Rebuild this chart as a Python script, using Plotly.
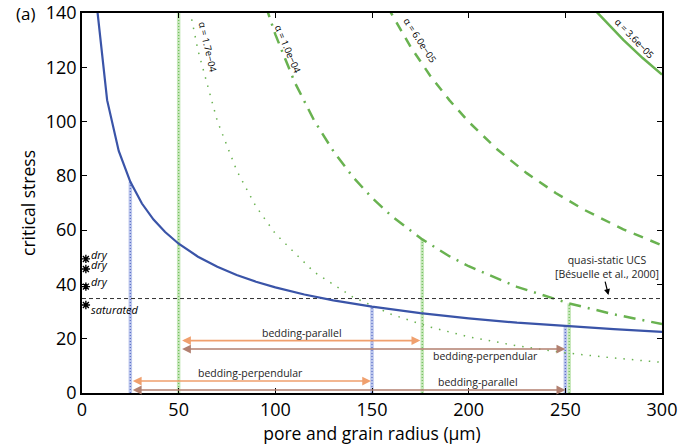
import plotly.graph_objects as go

# ---------------- data ----------------
# blue critical-stress curve
r_blue = [7, 13, 19, 25, 31, 37, 43, 50, 60, 70, 80, 90, 100, 115, 130, 150, 175, 200, 225, 250, 275, 300]
s_blue = [147.0, 107.9, 89.2, 77.8, 69.8, 63.9, 59.3, 55.0, 50.2, 46.5, 43.5, 41.0, 38.9, 36.3, 34.1,
          31.8, 29.4, 27.5, 25.9, 24.6, 23.5, 22.5]

# green alpha curves
r_a1 = [55, 60, 70, 80, 90, 100, 120, 140, 160, 180, 200, 225, 250, 275, 300]
s_a1 = [143.8, 126.2, 100.2, 82.0, 68.7, 58.7, 44.6, 35.4, 29.0, 24.3, 20.7, 17.4, 14.8, 12.9, 11.3]
r_a2 = [95, 100, 110, 120, 130, 140, 150, 160, 176, 190, 200, 225, 252, 275, 300]
s_a2 = [142.7, 132.1, 114.5, 100.5, 89.1, 79.7, 71.9, 65.3, 56.6, 50.4, 46.7, 39.1, 33.0, 29.0, 25.4]
r_a3 = [158, 170, 180, 190, 200, 215, 230, 245, 260, 280, 300]
s_a3 = [142.3, 127.5, 117.0, 107.9, 99.9, 89.6, 81.0, 73.7, 67.4, 60.3, 54.4]
r_a4 = [265, 280, 290, 300]
s_a4 = [141.3, 130.1, 123.4, 117.3]

alpha_labels = ["α = 1.7e−04", "α = 1.0e−04", "α = 6.0e−05", "α = 3.6e−05"]
alpha_label_x = [65.2, 106.6, 174.8, 285.8]
alpha_label_y = [127.4, 126.6, 129.8, 130.7]
alpha_label_angle = [77, 67, 57, 46]

# vertical markers
vblue_x = [25, 150, 250]
vblue_top = [77.8, 31.8, 24.6]
vgreen_x = [50, 176, 252]
vgreen_top = [140, 56.6, 33.0]

# measured UCS points
meas_x = [2, 2, 2, 2]
meas_y = [49.4, 45.7, 39.2, 32.4]
meas_lab = ["dry", "dry", "dry", "saturated"]

ucs_level = 34.8

# arrows
arrow_y = [19.3, 16.2, 4.4, 1.1]
arrow_x0 = [51, 51, 25.5, 25.5]
arrow_x1 = [175, 250, 149.5, 250]
arrow_kind = ["orange", "brown", "orange", "brown"]
arrow_text = ["bedding-parallel", "bedding-perpendular", "bedding-perpendular", "bedding-parallel"]
arrow_text_x = [114, 208.5, 87, 204.8]
arrow_text_y = [22.2, 13.8, 7.3, 3.9]

x_ticks = [0, 50, 100, 150, 200, 250, 300]
y_ticks = [0, 20, 40, 60, 80, 100, 120, 140]

# ---------------- style ----------------
FONT = "Open Sans"
BLUE = "rgb(58,84,168)"
GREEN = "rgb(105,178,80)"
ORANGE = "rgb(240,160,110)"
BROWN = "rgb(178,128,112)"
colors = {"orange": ORANGE, "brown": BROWN}

fig = go.Figure()

# vertical bands (light wide + dotted)
for xs, tops, band, dot in [(vblue_x, vblue_top, "rgba(130,150,220,0.55)", "rgb(90,110,200)"),
                            (vgreen_x, vgreen_top, "rgba(160,215,140,0.6)", "rgb(110,190,90)")]:
    for xv, tv in zip(xs, tops):
        fig.add_trace(go.Scatter(x=[xv, xv], y=[0, tv], mode="lines",
                                 line=dict(color=band, width=3.5), hoverinfo="skip", showlegend=False))
        fig.add_trace(go.Scatter(x=[xv, xv], y=[0, tv], mode="lines",
                                 line=dict(color=dot, width=1.2, dash="1px,2px"),
                                 hoverinfo="skip", showlegend=False))

# alpha curves
fig.add_trace(go.Scatter(x=r_a1, y=s_a1, mode="lines", line=dict(color=GREEN, width=1.5, dash="1.5px,7px"),
                         showlegend=False))
fig.add_trace(go.Scatter(x=r_a2, y=s_a2, mode="lines", line=dict(color=GREEN, width=2.5, dash="12px,7px,2px,7px"),
                         showlegend=False))
fig.add_trace(go.Scatter(x=r_a3, y=s_a3, mode="lines", line=dict(color=GREEN, width=2.5, dash="10px,8px"),
                         showlegend=False))
fig.add_trace(go.Scatter(x=r_a4, y=s_a4, mode="lines", line=dict(color=GREEN, width=2.5),
                         showlegend=False))

# UCS dashed line
fig.add_trace(go.Scatter(x=[0, 300], y=[ucs_level, ucs_level], mode="lines",
                         line=dict(color="rgb(50,50,50)", width=1, dash="4px,3px"), showlegend=False))

# blue curve
fig.add_trace(go.Scatter(x=r_blue, y=s_blue, mode="lines", line=dict(color=BLUE, width=2.2),
                         showlegend=False))

# measurement asterisks
fig.add_trace(go.Scatter(x=meas_x, y=meas_y, mode="markers",
                         marker=dict(symbol="asterisk-open", size=7, color="black",
                                     line=dict(color="black", width=1.4)),
                         cliponaxis=False, showlegend=False))

ann = []
for lab, yv in zip(meas_lab, meas_y):
    off = 1.8 if lab == "dry" else -1.7
    ann.append(dict(x=3.6, y=yv + off, text="<i>%s</i>" % lab, showarrow=False, xanchor="left",
                    yanchor="middle", font=dict(family=FONT, size=11, color="black")))

# arrows
for y0, xa, xb, k in zip(arrow_y, arrow_x0, arrow_x1, arrow_kind):
    ann.append(dict(x=xb, y=y0, ax=xa, ay=y0, xref="x", yref="y", axref="x", ayref="y",
                    showarrow=True, arrowside="end+start", arrowhead=2, arrowsize=1.1,
                    arrowwidth=1.6, arrowcolor=colors[k], text=""))
for t, xv, yv in zip(arrow_text, arrow_text_x, arrow_text_y):
    ann.append(dict(x=xv, y=yv, text=t, showarrow=False,
                    font=dict(family=FONT, size=10.5, color="rgb(30,30,30)")))

# alpha labels
for t, xv, yv, a in zip(alpha_labels, alpha_label_x, alpha_label_y, alpha_label_angle):
    ann.append(dict(x=xv, y=yv, text=t, textangle=a, showarrow=False,
                    font=dict(family=FONT, size=9.5, color="black")))

# UCS note
ann.append(dict(x=271.8, y=46.4, text="quasi-static UCS<br>[Bésuelle et al., 2000]", showarrow=False,
                font=dict(family=FONT, size=10.5, color="rgb(30,30,30)")))
ann.append(dict(x=272.3, y=36.1, ax=270.4, ay=41.6, xref="x", yref="y", axref="x", ayref="y",
                showarrow=True, arrowhead=2, arrowsize=1, arrowwidth=1.2, arrowcolor="black", text=""))

# panel label
ann.append(dict(x=-0.098, y=1.0, xref="paper", yref="paper", text="(a)", showarrow=False,
                xanchor="center", yanchor="middle", font=dict(family=FONT, size=17, color="black")))

fig.update_layout(
    width=696, height=447,
    margin=dict(l=82, r=34, t=13, b=54, autoexpand=False),
    paper_bgcolor="white", plot_bgcolor="white",
    font=dict(family=FONT, size=17, color="black"),
    annotations=ann,
    showlegend=False,
)
fig.update_xaxes(range=[0, 300], tickvals=x_ticks, ticks="inside", ticklen=5, tickwidth=1,
                 tickcolor="black", showline=True, linecolor="black", linewidth=1.5, mirror="ticks",
                 showgrid=False, zeroline=False, tickfont=dict(size=18), automargin=False,
                 ticklabeloverflow="allow",
                 title=dict(text="pore and grain radius (μm)", font=dict(size=17.5), standoff=1))
fig.update_yaxes(range=[0, 140], tickvals=y_ticks, ticks="inside", ticklen=5, tickwidth=1,
                 tickcolor="black", showline=True, linecolor="black", linewidth=1.5, mirror="ticks",
                 showgrid=False, zeroline=False, tickfont=dict(size=18), automargin=False,
                 ticklabeloverflow="allow",
                 title=dict(text="critical stress", font=dict(size=17.5), standoff=6))

# remove the browser's default 8px body margin so the figure fills the window exactly
fig.write_html("out.html", config={"displayModeBar": False},
               post_script="document.body.style.margin='0';")
